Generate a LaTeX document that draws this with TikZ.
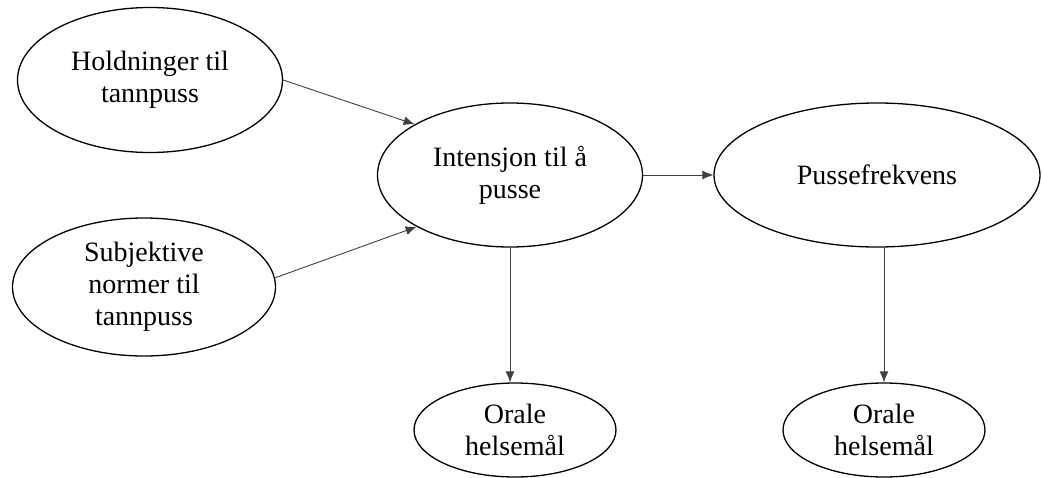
\documentclass[tikz,border=0pt]{standalone}
\usepackage{fontspec}
\newfontfamily\tnrfont{Liberation Serif}
\usetikzlibrary{shapes.geometric,arrows.meta}
\begin{document}
\begin{tikzpicture}[x=1pt,y=1pt,
  ell/.style={draw=black,line width=1.3pt,ellipse,inner sep=0pt,align=center,
    font=\tnrfont\fontsize{28}{32}\selectfont},
  arr/.style={draw=black!75,line width=0.9pt,-{Latex[length=11pt,width=9pt]}}]
\useasboundingbox (0,0) rectangle (1042,-477);
\node[ell,minimum width=265,minimum height=145] (e1) at (150,-80) {Holdninger til\\tannpuss};
\node[ell,minimum width=263,minimum height=138] (e2) at (144,-287) {Subjektive\\normer til\\tannpuss};
\node[ell,minimum width=265,minimum height=144] (e3) at (510,-175) {Intensjon til å\\pusse};
\node[ell,minimum width=326,minimum height=144] (e4) at (877,-175) {Pussefrekvens};
\node[ell,minimum width=202,minimum height=94] (e5) at (515,-430) {Orale\\helsemål};
\node[ell,minimum width=202,minimum height=94] (e6) at (884,-430) {Orale\\helsemål};
\draw[arr] (e1.east) -- (e3.152);
\draw[arr] (e2.4) -- (e3.209);
\draw[arr] (e3.east) -- (e4.west);
\draw[arr] (e3.south) -- (e3.south |- e5.north);
\draw[arr] (e4.south -| e6.north) -- (e6.north);
\end{tikzpicture}
\end{document}
